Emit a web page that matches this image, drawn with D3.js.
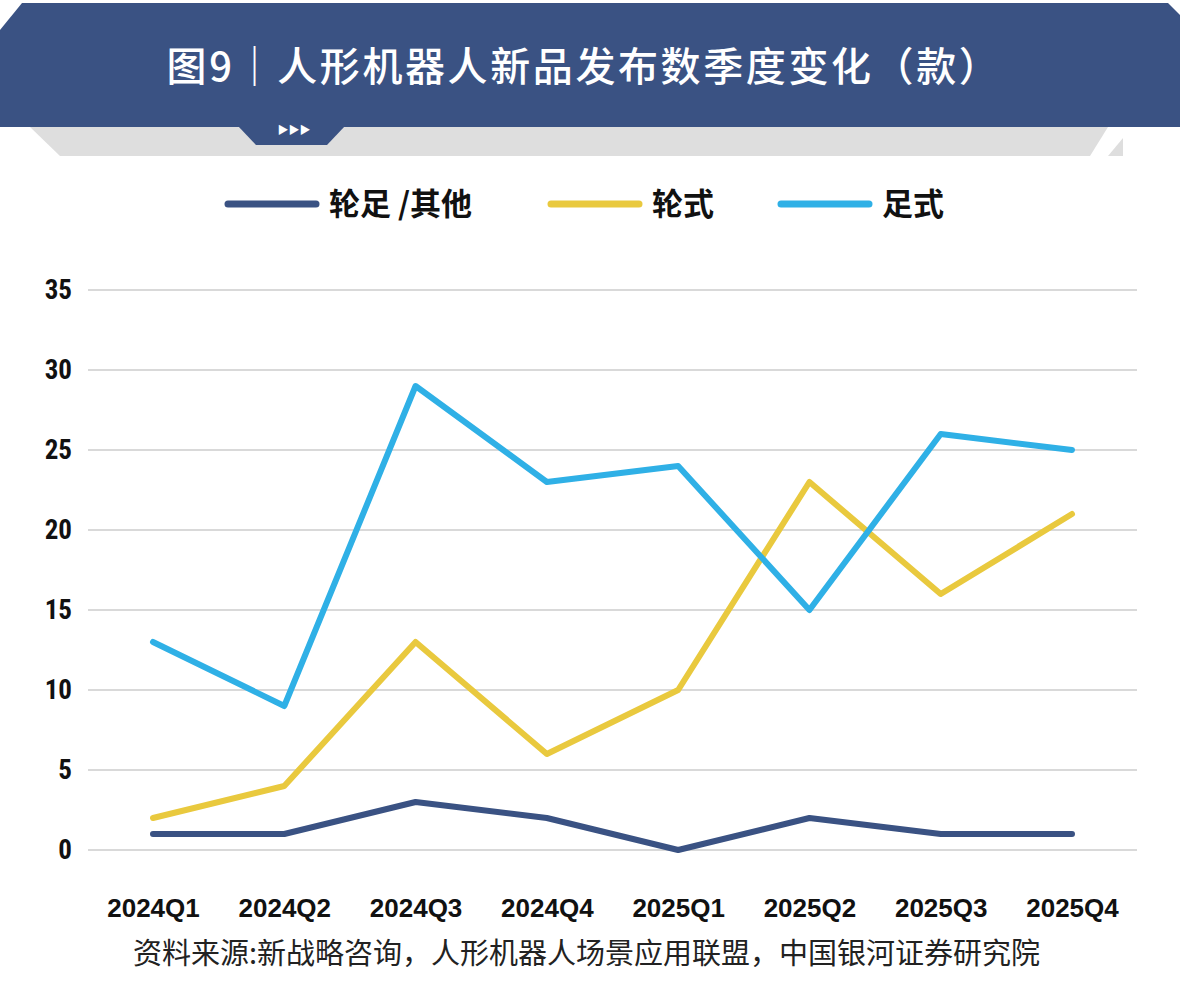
<!DOCTYPE html>
<html><head><meta charset="utf-8">
<script src="https://cdn.jsdelivr.net/npm/d3@7"></script>
<style>body{margin:0;background:#fff}svg{display:block}</style>
</head><body>
<script>
const quarters = ['2024Q1','2024Q2','2024Q3','2024Q4','2025Q1','2025Q2','2025Q3','2025Q4']
const wheelLeg = [1,1,3,2,0,2,1,1]
const wheeled = [2,4,13,6,10,23,16,21]
const legged = [13,9,29,23,24,15,26,25]
const yTicks = [0,5,10,15,20,25,30,35]
const seriesNames = ['轮足 /其他','轮式','足式']
const colors = ['#3a5283','#e9c93e','#2fb0e6']

const W = 1180, H = 991
const svg = d3.select('body').append('svg').attr('width', W).attr('height', H)
const font = "'Noto Sans CJK SC', 'Liberation Sans', sans-serif"

// header banner
svg.append('path').attr('d', 'M30,127 L1090,127 L1108,127 L1090,156 L60,156 Z').attr('fill', '#dedede')
svg.append('path').attr('d', 'M1108,156 L1123,138 L1123,156 Z').attr('fill', '#dedede')
svg.append('path').attr('d', 'M0,30 L22,3 L1168,3 L1180,15 L1180,127 L0,127 Z').attr('fill', '#3a5283')
svg.append('path').attr('d', 'M238,126 L345,126 L327,145 L256,145 Z').attr('fill', '#3a5283')
svg.append('text').attr('x', 294).attr('y', 134).attr('text-anchor', 'middle')
  .attr('fill', '#fff').attr('font-size', 11).attr('font-family', font).text('▶▶▶')
svg.append('text').attr('x', 584).attr('y', 81).attr('text-anchor', 'middle')
  .attr('fill', '#fff').attr('font-size', 40).attr('font-weight', 500).attr('letter-spacing', 2.6).attr('font-family', font)
  .text('图9｜人形机器人新品发布数季度变化（款）')

// legend
const legX = [228, 551, 781]
seriesNames.forEach((n, i) => {
  svg.append('line').attr('x1', legX[i]).attr('x2', legX[i] + 88).attr('y1', 204).attr('y2', 204)
    .attr('stroke', colors[i]).attr('stroke-width', 7).attr('stroke-linecap', 'round')
  svg.append('text').attr('x', legX[i] + 101).attr('y', 215).attr('font-size', 31)
    .attr('font-weight', 'bold').attr('font-family', font).attr('fill', '#111').text(n)
})

const x = d3.scalePoint().domain(quarters).range([153, 1072])
const y = d3.scaleLinear().domain([0, 35]).range([850, 290])

svg.append('g').selectAll('line').data(yTicks).join('line')
  .attr('x1', 88).attr('x2', 1137).attr('y1', d => y(d)).attr('y2', d => y(d))
  .attr('stroke', '#d9d9d9').attr('stroke-width', 2)

const yAxis = svg.append('g').attr('transform', 'translate(72,0)')
  .call(d3.axisLeft(y).tickValues(yTicks).tickSize(0).tickPadding(0))
yAxis.select('.domain').remove()
yAxis.selectAll('text').attr('font-size', 27).attr('font-weight', 'bold')
  .attr('font-family', "'Liberation Sans Narrow', 'Roboto Condensed', 'Liberation Sans', sans-serif").attr('fill', '#111')

const xAxis = svg.append('g').attr('transform', 'translate(0,882)')
  .call(d3.axisBottom(x).tickSize(0).tickPadding(17))
xAxis.select('.domain').remove()
xAxis.selectAll('text').attr('font-size', 26).attr('font-weight', 'bold')
  .attr('font-family', "'Liberation Sans Narrow', 'Liberation Sans', sans-serif").attr('fill', '#111')

const line = d3.line().x((d, i) => x(quarters[i])).y(d => y(d))
;[wheelLeg, wheeled, legged].forEach((s, i) => {
  svg.append('path').datum(s).attr('d', line).attr('fill', 'none')
    .attr('stroke', colors[i]).attr('stroke-width', 6).attr('stroke-linejoin', 'round').attr('stroke-linecap', 'round')
})

svg.append('text').attr('x', 133).attr('y', 964)
  .attr('font-size', 29).attr('font-family', font).attr('fill', '#222')
  .text('资料来源:新战略咨询，人形机器人场景应用联盟，中国银河证券研究院')
</script>
</body></html>
